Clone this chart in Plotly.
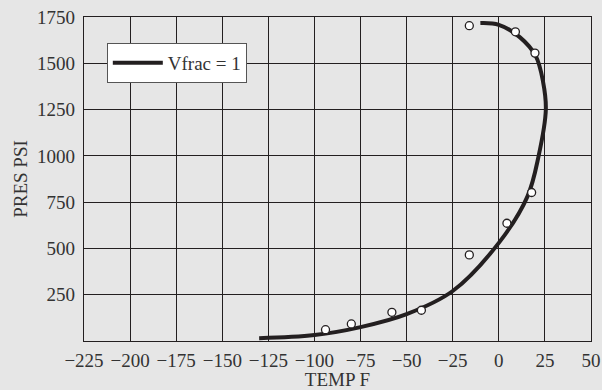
import plotly.graph_objects as go

# Smoothed Vfrac = 1 curve
curve_temp = [-130, -100, -75, -50, -25, 0, 15.5, 21.6, 25.5, 24.0, 20.0, 11.5, 0, -10]
curve_pres = [15, 32, 75, 145, 270, 530, 780, 1000, 1250, 1400, 1540, 1640, 1708, 1717]

# Measured points (open circles)
pt_temp = [-94, -80, -58, -42, -16, 4.4, -16, 9, 19.6, 17.8]
pt_pres = [61, 92, 155, 166, 465, 636, 1703, 1670, 1555, 802]

x_ticks = [-225, -200, -175, -150, -125, -100, -75, -50, -25, 0, 25, 50]
y_ticks = [250, 500, 750, 1000, 1250, 1500, 1750]

BG = "#e6e6e6"
INK = "#231f20"
FONT = "Liberation Serif"

fig = go.Figure()
fig.add_trace(go.Scatter(
    x=curve_temp, y=curve_pres, mode="lines", name="Vfrac = 1",
    line=dict(color=INK, width=4, shape="spline", smoothing=1.0),
))
fig.add_trace(go.Scatter(
    x=pt_temp, y=pt_pres, mode="markers", showlegend=False,
    marker=dict(symbol="circle", size=8, color="white",
                line=dict(color=INK, width=1.3)),
))

axis_common = dict(
    showgrid=True, gridcolor=INK, gridwidth=1.2,
    showline=True, linecolor=INK, linewidth=1.2, mirror=True,
    zeroline=False, ticks="", automargin=False,
    tickfont=dict(family=FONT, size=19, color="#333"),
)

fig.update_layout(
    width=602, height=390,
    margin=dict(l=84, r=11, t=17, b=49),
    paper_bgcolor=BG, plot_bgcolor=BG,
    font=dict(family=FONT, color="#333"),
    xaxis=dict(range=[-225, 50], tickvals=x_ticks, ticklabelstandoff=2,
               title=dict(text="TEMP F", font=dict(family=FONT, size=19), standoff=10),
               **axis_common),
    yaxis=dict(range=[0, 1750], tickvals=y_ticks, ticklabelstandoff=4,
               title=dict(text="PRES PSI", font=dict(family=FONT, size=19), standoff=4),
               **axis_common),
    legend=dict(x=0.045, y=0.92, xanchor="left", yanchor="top",
                bgcolor="white", bordercolor="#555", borderwidth=1,
                font=dict(family=FONT, size=19, color="#333"),
                itemwidth=50),
)

fig.write_html("out.html", config={"displayModeBar": False},
               post_script="document.body.style.margin='0';document.body.style.background='%s';" % BG)
